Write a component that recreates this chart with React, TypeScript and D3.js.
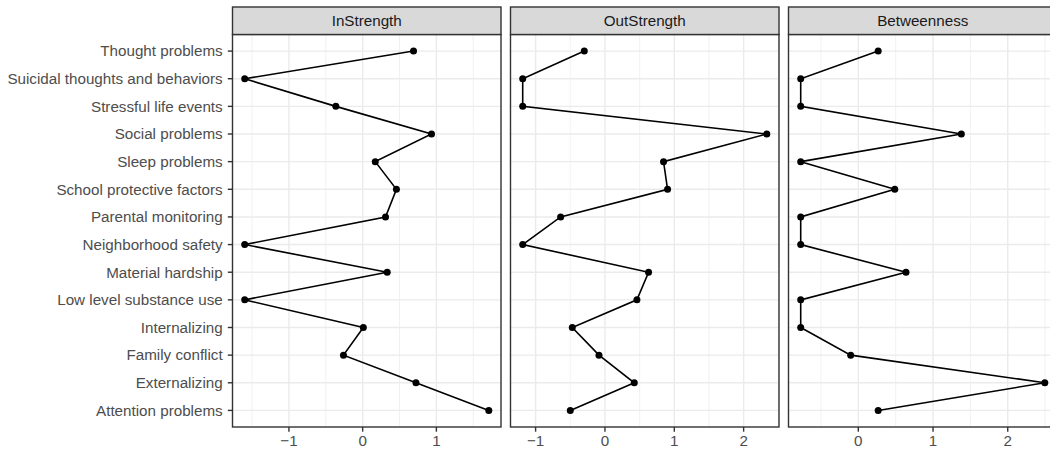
import React from "react";
import * as d3 from "d3";

const categories = [
  "Thought problems",
  "Suicidal thoughts and behaviors",
  "Stressful life events",
  "Social problems",
  "Sleep problems",
  "School protective factors",
  "Parental monitoring",
  "Neighborhood safety",
  "Material hardship",
  "Low level substance use",
  "Internalizing",
  "Family conflict",
  "Externalizing",
  "Attention problems",
];

const inStrength = [0.69, -1.6, -0.364, 0.934, 0.171, 0.458, 0.31, -1.6, 0.333, -1.6, 0.009, -0.26, 0.723, 1.711];
const outStrength = [-0.298, -1.186, -1.186, 2.334, 0.845, 0.903, -0.639, -1.186, 0.629, 0.461, -0.471, -0.086, 0.423, -0.5];
const betweenness = [0.266, -0.771, -0.771, 1.379, -0.771, 0.488, -0.771, -0.771, 0.638, -0.771, -0.771, -0.102, 2.496, 0.266];

const panelTitles = ["InStrength", "OutStrength", "Betweenness"];
const panelValues = [inStrength, outStrength, betweenness];
const panelTicks = [
  [-1, 0, 1],
  [-1, 0, 1, 2],
  [0, 1, 2],
];

const W = 1050;
const H = 451;
const panelLeft = [232.5, 510.5, 788.5];
const panelW = 268.5;
const stripTop = 7;
const plotTop = 34.5;
const plotBottom = 427;
const FONT = "'Liberation Sans', Arial, Helvetica, sans-serif";
const FS = 15.2;
const LW = 1.4;

const fmt = (v: number) => (v < 0 ? "\u2212" + Math.abs(v) : String(v));

export default function App() {
  const y = d3
    .scalePoint<string>()
    .domain(categories)
    .range([plotTop, plotBottom])
    .padding(0.6);

  return (
    <svg
      width={W}
      height={H}
      style={{ position: "absolute", left: 0, top: 0, background: "#fff" }}
      fontFamily={FONT}
    >
      <rect x={0} y={0} width={W} height={H} fill="#fff" />
      {categories.map((c) => (
        <g key={c}>
          <line
            x1={panelLeft[0] - 4.7}
            x2={panelLeft[0]}
            y1={y(c)}
            y2={y(c)}
            stroke="#333333"
            strokeWidth={LW}
          />
          <text
            x={222.7}
            y={(y(c) as number) + 5.3}
            textAnchor="end"
            fontSize={FS}
            fill="#4D4D4D"
          >
            {c}
          </text>
        </g>
      ))}
      {panelTitles.map((title, i) => {
        const vals = panelValues[i];
        const mn = d3.min(vals) as number;
        const mx = d3.max(vals) as number;
        const r = mx - mn;
        const x0 = panelLeft[i];
        const x = d3
          .scaleLinear()
          .domain([mn - 0.05 * r, mx + 0.05 * r])
          .range([x0, x0 + panelW]);
        const [d0, d1] = x.domain();
        const majors = panelTicks[i];
        const minors: number[] = [];
        for (let t = Math.floor(d0 * 2) / 2; t <= d1; t += 0.5) {
          if (t >= d0 && !majors.includes(t) && Math.abs(t % 1) > 0.01) minors.push(t);
        }
        const line = d3
          .line<number>()
          .x((v) => x(v))
          .y((_, j) => y(categories[j]) as number);
        const clipId = `clip${i}`;
        return (
          <g key={title}>
            <defs>
              <clipPath id={clipId}>
                <rect x={x0} y={plotTop} width={panelW} height={plotBottom - plotTop} />
              </clipPath>
            </defs>
            <rect x={x0} y={plotTop} width={panelW} height={plotBottom - plotTop} fill="#fff" />
            {minors.map((t) => (
              <line
                key={"mn" + t}
                x1={x(t)}
                x2={x(t)}
                y1={plotTop}
                y2={plotBottom}
                stroke="#EBEBEB"
                strokeWidth={LW / 2}
              />
            ))}
            {categories.map((c) => (
              <line
                key={"gy" + c}
                x1={x0}
                x2={x0 + panelW}
                y1={y(c)}
                y2={y(c)}
                stroke="#EBEBEB"
                strokeWidth={LW}
              />
            ))}
            {majors.map((t) => (
              <line
                key={"mj" + t}
                x1={x(t)}
                x2={x(t)}
                y1={plotTop}
                y2={plotBottom}
                stroke="#EBEBEB"
                strokeWidth={LW}
              />
            ))}
            <g clipPath={`url(#${clipId})`}>
              <path d={line(vals) as string} fill="none" stroke="#000" strokeWidth={1.6} />
              {vals.map((v, j) => (
                <circle key={j} cx={x(v)} cy={y(categories[j])} r={3.5} fill="#000" />
              ))}
            </g>
            <rect
              x={x0}
              y={plotTop}
              width={panelW}
              height={plotBottom - plotTop}
              fill="none"
              stroke="#333333"
              strokeWidth={LW}
            />
            <rect
              x={x0}
              y={stripTop}
              width={panelW}
              height={plotTop - stripTop}
              fill="#D9D9D9"
              stroke="#333333"
              strokeWidth={LW}
            />
            <text
              x={x0 + panelW / 2}
              y={(stripTop + plotTop) / 2 + 5.3}
              textAnchor="middle"
              fontSize={FS}
              fill="#1A1A1A"
            >
              {title}
            </text>
            {majors.map((t) => (
              <g key={"tk" + t}>
                <line
                  x1={x(t)}
                  x2={x(t)}
                  y1={plotBottom}
                  y2={plotBottom + 4.7}
                  stroke="#333333"
                  strokeWidth={LW}
                />
                <text
                  x={x(t)}
                  y={446}
                  textAnchor="middle"
                  fontSize={FS}
                  fill="#4D4D4D"
                >
                  {fmt(t)}
                </text>
              </g>
            ))}
          </g>
        );
      })}
    </svg>
  );
}
